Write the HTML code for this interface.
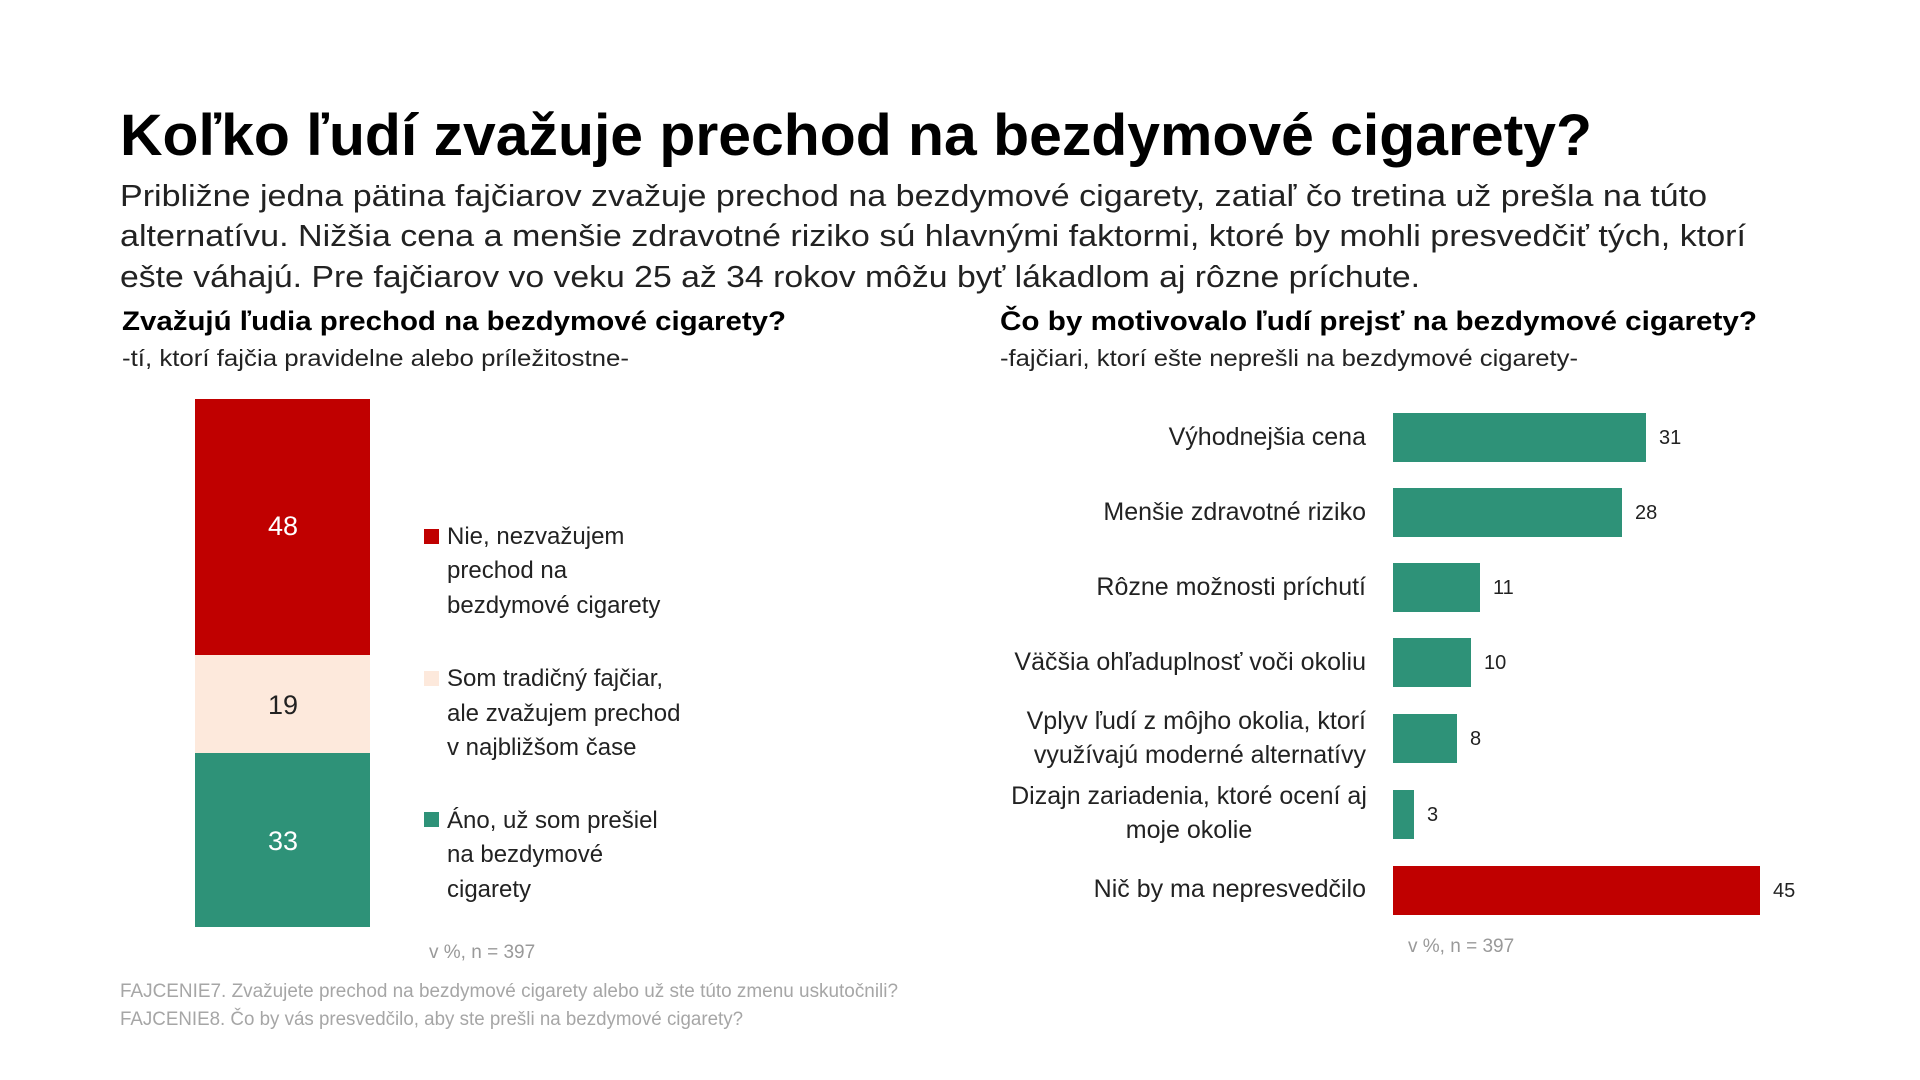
<!DOCTYPE html>
<html><head><meta charset="utf-8"><style>
html,body{margin:0;padding:0;background:#fff;}
svg{display:block;font-family:"Liberation Sans",sans-serif;}
</style></head><body>
<svg width="1920" height="1080" viewBox="0 0 1920 1080">
<rect width="1920" height="1080" fill="#fff"/>
<text x="120" y="155" font-size="58" font-weight="bold" fill="#000" textLength="1472" lengthAdjust="spacingAndGlyphs">Koľko ľudí zvažuje prechod na bezdymové cigarety?</text>
<g font-size="31" fill="#222">
<text x="120" y="206" textLength="1587" lengthAdjust="spacingAndGlyphs">Približne jedna pätina fajčiarov zvažuje prechod na bezdymové cigarety, zatiaľ čo tretina už prešla na túto</text>
<text x="120" y="246" textLength="1626" lengthAdjust="spacingAndGlyphs">alternatívu. Nižšia cena a menšie zdravotné riziko sú hlavnými faktormi, ktoré by mohli presvedčiť tých, ktorí</text>
<text x="120" y="287" textLength="1300" lengthAdjust="spacingAndGlyphs">ešte váhajú. Pre fajčiarov vo veku 25 až 34 rokov môžu byť lákadlom aj rôzne príchute.</text>
</g>
<text x="122" y="330" font-size="27" font-weight="bold" fill="#000" textLength="664" lengthAdjust="spacingAndGlyphs">Zvažujú ľudia prechod na bezdymové cigarety?</text>
<text x="122" y="366" font-size="23" fill="#222" textLength="507" lengthAdjust="spacingAndGlyphs">-tí, ktorí fajčia pravidelne alebo príležitostne-</text>
<text x="1000" y="330" font-size="27" font-weight="bold" fill="#000" textLength="757" lengthAdjust="spacingAndGlyphs">Čo by motivovalo ľudí prejsť na bezdymové cigarety?</text>
<text x="1000" y="366" font-size="23" fill="#222" textLength="578" lengthAdjust="spacingAndGlyphs">-fajčiari, ktorí ešte neprešli na bezdymové cigarety-</text>

<rect x="195" y="399" width="175" height="256" fill="#c00000"/>
<rect x="195" y="655" width="175" height="98" fill="#fde9dc"/>
<rect x="195" y="753" width="175" height="174" fill="#2e9278"/>
<g font-size="27" text-anchor="middle">
<text x="283" y="535" fill="#fff">48</text>
<text x="283" y="714" fill="#222">19</text>
<text x="283" y="850" fill="#fff">33</text>
</g>
<g font-size="24" fill="#222">
<rect x="424" y="529" width="15" height="15" fill="#c00000"/>
<text x="447" y="544">Nie, nezvažujem</text>
<text x="447" y="578">prechod na</text>
<text x="447" y="613">bezdymové cigarety</text>
<rect x="424" y="671" width="15" height="15" fill="#fde9dc"/>
<text x="447" y="686">Som tradičný fajčiar,</text>
<text x="447" y="721">ale zvažujem prechod</text>
<text x="447" y="755">v najbližšom čase</text>
<rect x="424" y="812" width="15" height="15" fill="#2e9278"/>
<text x="447" y="828">Áno, už som prešiel</text>
<text x="447" y="862">na bezdymové</text>
<text x="447" y="897">cigarety</text>
</g>
<text x="429" y="958" font-size="19" fill="#999">v %, n = 397</text>
<text x="120" y="997" font-size="19" fill="#a6a6a6" textLength="778" lengthAdjust="spacingAndGlyphs">FAJCENIE7. Zvažujete prechod na bezdymové cigarety alebo už ste túto zmenu uskutočnili?</text>
<text x="120" y="1025" font-size="19" fill="#a6a6a6" textLength="623" lengthAdjust="spacingAndGlyphs">FAJCENIE8. Čo by vás presvedčilo, aby ste prešli na bezdymové cigarety?</text>

<g fill="#2e9278">
<rect x="1393" y="413" width="253" height="49"/>
<rect x="1393" y="488" width="229" height="49"/>
<rect x="1393" y="563" width="87" height="49"/>
<rect x="1393" y="638" width="78" height="49"/>
<rect x="1393" y="714" width="64" height="49"/>
<rect x="1393" y="790" width="21" height="49"/>
</g>
<rect x="1393" y="866" width="367" height="49" fill="#c00000"/>
<g font-size="20" fill="#222">
<text x="1659" y="444">31</text>
<text x="1635" y="519">28</text>
<text x="1493" y="594">11</text>
<text x="1484" y="669">10</text>
<text x="1470" y="745">8</text>
<text x="1427" y="821">3</text>
<text x="1773" y="897">45</text>
</g>
<g font-size="25" fill="#222" text-anchor="end">
<text x="1366" y="445">Výhodnejšia cena</text>
<text x="1366" y="520">Menšie zdravotné riziko</text>
<text x="1366" y="595">Rôzne možnosti príchutí</text>
<text x="1366" y="670">Väčšia ohľaduplnosť voči okoliu</text>
<text x="1366" y="729">Vplyv ľudí z môjho okolia, ktorí</text>
<text x="1366" y="763">využívajú moderné alternatívy</text>
</g>
<g font-size="25" fill="#222" text-anchor="middle">
<text x="1189" y="804">Dizajn zariadenia, ktoré ocení aj</text>
<text x="1189" y="838">moje okolie</text>
</g>
<text x="1366" y="897" font-size="25" fill="#222" text-anchor="end">Nič by ma nepresvedčilo</text>
<text x="1408" y="952" font-size="19" fill="#999">v %, n = 397</text>
</svg>
</body></html>
